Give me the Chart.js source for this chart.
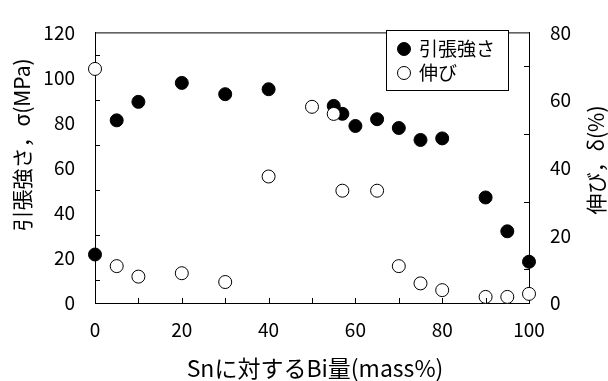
<!DOCTYPE html>
<html>
<head>
<meta charset="utf-8">
<script src="https://cdn.jsdelivr.net/npm/chart.js@4.4.0/dist/chart.umd.min.js"></script>
<style>
  html, body { margin: 0; padding: 0; background: #fff; }
  #wrap { position: relative; width: 608px; height: 381px; }
</style>
</head>
<body>
<div id="wrap"><canvas id="myChart" width="608" height="381"></canvas></div>
<script>
// data
const strengthX = [0, 5, 10, 20, 30, 40, 55, 57, 60, 65, 70, 75, 80, 90, 95, 100];
const strengthY = [21.5, 81, 89.2, 97.6, 92.6, 94.8, 87.4, 83.9, 78.5, 81.5, 77.6, 72.3, 73, 46.8, 31.8, 18.3];
const elongX = [0, 5, 10, 20, 30, 40, 50, 55, 57, 65, 70, 75, 80, 90, 95, 100];
const elongY = [69.2, 10.9, 7.8, 8.8, 6.2, 37.4, 58, 55.9, 33.2, 33.2, 10.9, 5.8, 3.8, 1.8, 1.8, 2.7];

const seriesLabels = ['引張強さ', '伸び'];
const xTitle = 'Snに対するBi量(mass%)';
const leftTitle = '引張強さ，σ(MPa)';
const rightTitle = '伸び，δ(%)';

// small inward tick marks (Excel style)
const xTickMarks = [10, 20, 30, 40, 50, 60, 70, 80, 90];
const leftTickMarks = [10, 30, 50, 70, 90, 110];
const rightTickMarks = [10, 30, 50, 70];

const FONT = '"Noto Sans CJK JP", "Noto Sans", sans-serif';

const toPoints = (xs, ys) => xs.map((x, i) => ({ x: x, y: ys[i] }));

const frame = {
  id: 'frame',
  afterDraw(chart) {
    const { ctx, chartArea: a, scales } = chart;
    ctx.save();
    ctx.strokeStyle = '#000';
    ctx.lineWidth = 1;
    ctx.beginPath();
    ctx.moveTo(a.left, a.top + 0.5);
    ctx.lineTo(a.right, a.top + 0.5);
    xTickMarks.forEach(v => {
      const px = Math.round(scales.x.getPixelForValue(v)) + 0.5;
      ctx.moveTo(px, a.bottom);
      ctx.lineTo(px, a.bottom - 5);
    });
    leftTickMarks.forEach(v => {
      const py = Math.round(scales.y.getPixelForValue(v)) + 0.5;
      ctx.moveTo(a.left, py);
      ctx.lineTo(a.left + 5, py);
    });
    rightTickMarks.forEach(v => {
      const py = Math.round(scales.y1.getPixelForValue(v)) + 0.5;
      ctx.moveTo(a.right, py);
      ctx.lineTo(a.right - 5, py);
    });
    ctx.stroke();

    // axis titles
    ctx.fillStyle = '#000';
    ctx.textAlign = 'center';
    ctx.textBaseline = 'middle';
    ctx.font = '23px ' + FONT;
    ctx.fillText(xTitle, 315, 368);
    ctx.font = '21px ' + FONT;
    ctx.save();
    ctx.translate(22, 145);
    ctx.rotate(-Math.PI / 2);
    ctx.fillText(leftTitle, 0, 0);
    ctx.restore();
    ctx.save();
    ctx.translate(596, 160);
    ctx.rotate(-Math.PI / 2);
    ctx.fillText(rightTitle, 0, 0);
    ctx.restore();

    // legend box
    ctx.fillStyle = '#fff';
    ctx.fillRect(386, 30, 122, 60);
    ctx.fillStyle = '#000';
    ctx.fillRect(386, 30, 123, 1);
    ctx.fillRect(386, 90, 123, 1);
    ctx.fillRect(386, 30, 1, 61);
    ctx.fillRect(508, 30, 1, 61);
    ctx.font = '19px ' + FONT;
    ctx.textAlign = 'left';
    chart.data.datasets.forEach((ds, i) => {
      const cy = 49 + i * 24;
      ctx.beginPath();
      ctx.arc(404, cy, 6.5, 0, Math.PI * 2);
      ctx.fillStyle = ds.backgroundColor;
      ctx.fill();
      ctx.strokeStyle = '#000';
      ctx.stroke();
      ctx.fillStyle = '#000';
      ctx.fillText(ds.label, 419, cy);
    });
    ctx.restore();
  }
};

new Chart(document.getElementById('myChart').getContext('2d'), {
  type: 'scatter',
  data: {
    datasets: [
      {
        label: seriesLabels[0],
        data: toPoints(strengthX, strengthY),
        yAxisID: 'y',
        backgroundColor: '#000',
        borderColor: '#000',
        borderWidth: 1,
        pointRadius: 6.5,
        order: 1,
        clip: false,
      },
      {
        label: seriesLabels[1],
        data: toPoints(elongX, elongY),
        yAxisID: 'y1',
        backgroundColor: '#fff',
        borderColor: '#000',
        borderWidth: 1,
        pointRadius: 6.5,
        order: 0,
        clip: false,
      },
    ],
  },
  options: {
    responsive: false,
    animation: false,
    layout: { padding: { top: 17, left: 0, right: 0, bottom: 0 } },
    plugins: { legend: { display: false }, tooltip: { enabled: false } },
    scales: {
      x: {
        type: 'linear',
        min: 0,
        max: 100,
        ticks: { stepSize: 20, padding: 15, color: '#000', font: { family: FONT, size: 19 } },
        grid: { drawOnChartArea: false, drawTicks: false },
        border: { color: '#000', width: 1 },
        afterFit: s => { s.height = 78; },
      },
      y: {
        position: 'left',
        min: 0,
        max: 120,
        ticks: { stepSize: 20, padding: 20, color: '#000', font: { family: FONT, size: 19 } },
        grid: { drawOnChartArea: false, drawTicks: false },
        border: { color: '#000', width: 1 },
        afterFit: s => { s.width = 95; },
      },
      y1: {
        position: 'right',
        min: 0,
        max: 80,
        ticks: { stepSize: 20, padding: 21, color: '#000', font: { family: FONT, size: 19 } },
        grid: { drawOnChartArea: false, drawTicks: false },
        border: { color: '#000', width: 1 },
        afterFit: s => { s.width = 79; },
      },
    },
  },
  plugins: [frame],
});
</script>
</body>
</html>
